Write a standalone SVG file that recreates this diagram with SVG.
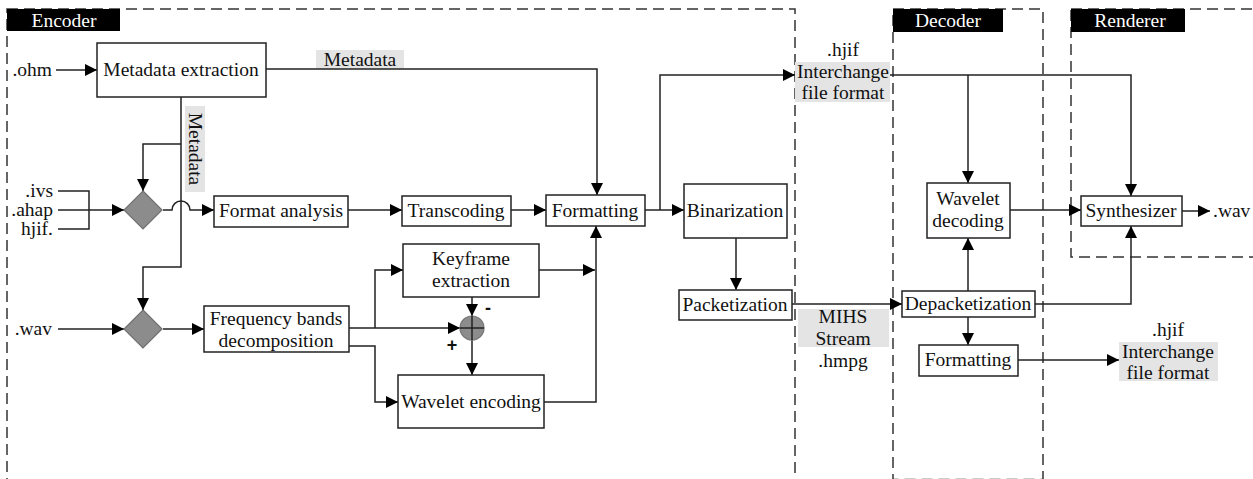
<svg xmlns="http://www.w3.org/2000/svg" width="1253" height="479" viewBox="0 0 1253 479">
<defs>
<style>
.t{font-family:"Liberation Serif","DejaVu Serif",serif;font-size:19.5px;fill:#111;}
.c{text-anchor:middle;}
.e{text-anchor:end;}
.lab{font-family:"Liberation Serif","DejaVu Serif",serif;font-size:19.5px;fill:#fff;text-anchor:middle;}
.box{fill:#fff;stroke:#222;stroke-width:1.5;}
.frame{fill:none;stroke:#333;stroke-width:1.5;stroke-dasharray:11 6;}
.hdr{fill:#000;}
.tag{fill:#e4e4e4;}
.ln{fill:none;stroke:#222;stroke-width:1.5;}
.arr{fill:none;stroke:#222;stroke-width:1.5;marker-end:url(#ah);}
.dia{fill:#8c8c8c;stroke:#707070;stroke-width:1.2;}
.sgn{font-family:"Liberation Sans",Arial,sans-serif;font-size:18px;font-weight:bold;fill:#111;text-anchor:middle;}
</style>
<marker id="ah" viewBox="0 0 12 12" refX="12" refY="6" markerWidth="12" markerHeight="12" orient="auto" markerUnits="userSpaceOnUse"><path d="M0,0 L12,6 L0,12 z" fill="#000"/></marker>
</defs>
<rect width="1253" height="479" fill="#fff"/>

<g id="frames">
<rect class="frame" x="7" y="9" width="788" height="472"/>
<rect class="frame" x="893" y="9" width="150" height="470.5"/>
<rect class="frame" x="1071" y="9" width="200" height="248"/>
<rect class="hdr" x="7" y="9" width="113" height="22"/>
<text class="lab" x="64" y="27">Encoder</text>
<rect class="hdr" x="893" y="9" width="110" height="23"/>
<text class="lab" x="948" y="27">Decoder</text>
<rect class="hdr" x="1071" y="9" width="114" height="23"/>
<text class="lab" x="1130" y="27">Renderer</text>
</g>

<g id="labels">
<rect class="tag" x="316" y="50" width="88" height="19"/>
<text class="t c" x="360" y="66">Metadata</text>
<rect class="tag" x="185" y="106" width="20" height="86"/>
<text class="t c" transform="translate(189,149) rotate(90)">Metadata</text>
<text class="t e" x="52" y="76">.ohm</text>
<text class="t e" x="53" y="197">.ivs</text>
<text class="t e" x="53" y="216">.ahap</text>
<text class="t e" x="53" y="235">hjif.</text>
<text class="t e" x="52" y="335">.wav</text>
<text class="t c" x="843" y="56">.hjif</text>
<rect class="tag" x="795" y="62" width="95" height="40"/>
<text class="t c" x="843" y="78">Interchange</text>
<text class="t c" x="843" y="99">file format</text>
<rect class="tag" x="798" y="309" width="91" height="38"/>
<text class="t c" x="843" y="323">MIHS</text>
<text class="t c" x="843" y="345">Stream</text>
<text class="t c" x="843" y="367">.hmpg</text>
<text class="t c" x="1168" y="336">.hjif</text>
<rect class="tag" x="1119" y="342" width="99" height="39"/>
<text class="t c" x="1168" y="358">Interchange</text>
<text class="t c" x="1168" y="379">file format</text>
<text class="t" x="1213" y="217">.wav</text>
<text class="sgn" x="488" y="314">-</text>
<text class="sgn" x="452" y="351">+</text>
</g>

<g id="connectors">
<path class="arr" d="M56,70 H97"/>
<path class="arr" d="M266,69 H597 V195"/>
<path class="arr" d="M181,97 V267 H143 V310"/>
<path class="arr" d="M181,144 H143 V191"/>
<path class="ln" d="M58,191 H89 V229 H58"/>
<path class="arr" d="M58,210 H124"/>
<path class="arr" d="M163,210 H172 A9,9 0 0 1 190,210 H214"/>
<path class="arr" d="M348,210 H402"/>
<path class="arr" d="M511,210 H546"/>
<path class="arr" d="M645,210 H684"/>
<path class="arr" d="M660,210 V75 H795"/>
<path class="arr" d="M736,238 V290"/>
<path class="arr" d="M792,304 H902"/>
<path class="arr" d="M58,329 H124"/>
<path class="arr" d="M163,329 H204"/>
<path class="arr" d="M349,328 H460"/>
<path class="arr" d="M375,328 V270 H403"/>
<path class="arr" d="M349,346 H375 V402 H398"/>
<path class="arr" d="M539,270 H595"/>
<path class="arr" d="M544,402 H596 V226"/>
<path class="arr" d="M472,297 V316"/>
<path class="arr" d="M472,340 V375"/>
<path class="arr" d="M890,75 H1131 V196"/>
<path class="arr" d="M968,75 V183"/>
<path class="arr" d="M1010,210 H1081"/>
<path class="arr" d="M1182,211 H1210"/>
<path class="arr" d="M968,291 V238"/>
<path class="arr" d="M1035,304 H1131 V226"/>
<path class="arr" d="M968,317 V345"/>
<path class="arr" d="M1018,360 H1119"/>
</g>

<g id="merge1"><path class="dia" d="M143,191 L162,210 L143,229 L124,210 Z"/></g>
<g id="merge2"><path class="dia" d="M143,310 L162,329 L143,348 L124,329 Z"/></g>
<g id="sum">
<circle cx="472" cy="328" r="12" fill="#8c8c8c" stroke="#777" stroke-width="1.2"/>
<path class="ln" d="M460,328 H484 M472,316 V340"/>
</g>

<g id="metadata-extraction"><rect class="box" x="97" y="43" width="169" height="54"/><text class="t c" x="181" y="76">Metadata extraction</text></g>
<g id="format-analysis"><rect class="box" x="214" y="196" width="134" height="31"/><text class="t c" x="281" y="217">Format analysis</text></g>
<g id="transcoding"><rect class="box" x="402" y="196" width="109" height="30"/><text class="t c" x="456" y="217">Transcoding</text></g>
<g id="formatting-enc"><rect class="box" x="546" y="195" width="99" height="31"/><text class="t c" x="595" y="217">Formatting</text></g>
<g id="binarization"><rect class="box" x="684" y="184" width="103" height="54"/><text class="t c" x="735" y="217">Binarization</text></g>
<g id="packetization"><rect class="box" x="679" y="290" width="113" height="30"/><text class="t c" x="735" y="311">Packetization</text></g>
<g id="freq-bands"><rect class="box" x="204" y="306" width="145" height="46"/><text class="t c" x="276" y="325">Frequency bands</text><text class="t c" x="276" y="347">decomposition</text></g>
<g id="keyframe"><rect class="box" x="403" y="244" width="136" height="53"/><text class="t c" x="471" y="265">Keyframe</text><text class="t c" x="471" y="287">extraction</text></g>
<g id="wavelet-encoding"><rect class="box" x="398" y="375" width="146" height="53"/><text class="t c" x="471" y="408">Wavelet encoding</text></g>
<g id="wavelet-decoding"><rect class="box" x="927" y="183" width="83" height="55"/><text class="t c" x="968" y="205">Wavelet</text><text class="t c" x="968" y="227">decoding</text></g>
<g id="synthesizer"><rect class="box" x="1081" y="196" width="101" height="30"/><text class="t c" x="1131" y="217">Synthesizer</text></g>
<g id="depacketization"><rect class="box" x="902" y="291" width="133" height="26"/><text class="t c" x="968" y="310">Depacketization</text></g>
<g id="formatting-dec"><rect class="box" x="919" y="345" width="99" height="31"/><text class="t c" x="968" y="366">Formatting</text></g>
</svg>
